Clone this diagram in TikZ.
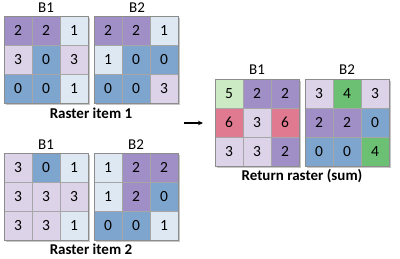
\documentclass[tikz,border=0pt]{standalone}
\usepackage{fontspec}
\setmainfont{Carlito}
\usetikzlibrary{arrows.meta,positioning}
\definecolor{cpurple}{RGB}{160,143,199}
\definecolor{clilac}{RGB}{221,211,233}
\definecolor{cpale}{RGB}{221,232,242}
\definecolor{cblue}{RGB}{126,165,205}
\definecolor{cmint}{RGB}{204,234,195}
\definecolor{cgreen}{RGB}{108,192,115}
\definecolor{cpink}{RGB}{224,122,144}

\begin{document}
\begin{tikzpicture}[x=1pt,y=-1pt,
  cell/.style={draw=black!35,inner sep=0pt,minimum width=28pt,minimum height=29pt,
    font=\fontsize{15.5}{16}\selectfont},
  bandlabel/.style={font=\fontsize{15}{16}\selectfont},
  caption/.style={font=\fontsize{15}{16}\selectfont\bfseries}]
  \useasboundingbox (0,0) rectangle (400,258);
  % the six 3x3 bands: top-left corner, name, values/colours row by row
  \foreach \gx/\gy/\gname/\cells in {
      4/16/ra/{2/cpurple,2/cpurple,1/cpale,3/clilac,0/cblue,3/clilac,0/cblue,0/cblue,1/cpale},
      94/16/rb/{2/cpurple,2/cpurple,1/cpale,1/cpale,0/cblue,0/cblue,0/cblue,0/cblue,3/clilac},
      4/153/rc/{3/clilac,0/cblue,1/cpale,3/clilac,3/clilac,3/clilac,3/clilac,3/clilac,1/cpale},
      94/153/rd/{1/cpale,2/cpurple,2/cpurple,1/cpale,2/cpurple,0/cblue,0/cblue,0/cblue,1/cpale},
      215/79/re/{5/cmint,2/cpurple,2/cpurple,6/cpink,3/clilac,6/cpink,3/clilac,3/clilac,2/cpurple},
      305/79/rf/{3/clilac,4/cgreen,3/clilac,2/cpurple,2/cpurple,0/cblue,0/cblue,0/cblue,4/cgreen}} {
    \begin{scope}[shift={(\gx,\gy)},name prefix=\gname-]
      \fill[black!22] (1.5,1.5) rectangle (85.5,88.5);
      \foreach \v/\f [count=\i from 0] in \cells {
        \pgfmathtruncatemacro{\cx}{mod(\i,3)}
        \pgfmathtruncatemacro{\ry}{div(\i,3)}
        \node[cell,fill=\f] (c\i) at (14+28*\cx,14.5+29*\ry) {\v};
      }
      \draw[black!45] (0,0) rectangle (84,87);
    \end{scope}
  }
  \node[bandlabel] (ra-b1) at (46,8) {B1};
  \node[bandlabel] (rb-b2) at (137,8) {B2};
  \node[caption] (cap1) at (91,113) {Raster item 1};
  \node[bandlabel] (rc-b1) at (46,145) {B1};
  \node[bandlabel] (rd-b2) at (136,145) {B2};
  \node[caption] (cap2) at (91,249) {Raster item 2};
  \node[bandlabel] (re-b1) at (257,70) {B1};
  \node[bandlabel] (rf-b2) at (347,70) {B2};
  \node[caption] (cap3) at (302,176) {Return raster (sum)};
  \coordinate (arrowtail) at (184,123);
  \coordinate (arrowtip) at (203,123);
  \draw[-{Stealth[length=5pt,width=4.5pt]},line width=1.2pt] (arrowtail) -- (arrowtip);
\end{tikzpicture}
\end{document}
